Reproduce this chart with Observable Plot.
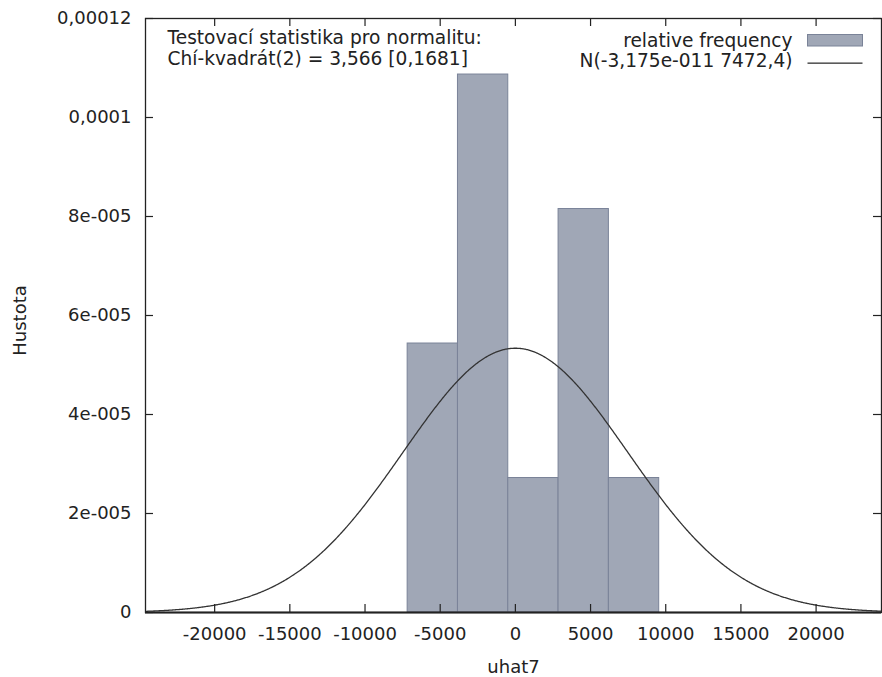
<!DOCTYPE html>
<html><head><meta charset="utf-8">
<script src="https://cdn.jsdelivr.net/npm/d3@7"></script>
<script src="https://cdn.jsdelivr.net/npm/@observablehq/plot@0.6"></script>
<style>body{margin:0;background:#fff} svg{display:block}</style>
</head><body><div id="chart"></div>
<script>
// ---- data ----
const binEdges = [-7165, -3819, -473, 2873, 6219, 9565];
const density = [5.434e-5, 1.0868e-4, 2.717e-5, 8.151e-5, 2.717e-5];
const normalMean = -3.175e-11;
const normalSd = 7472.4;
const xDomain = [-24600, 24350];
const yDomain = [0, 0.00012];
const xTicks = [-20000, -15000, -10000, -5000, 0, 5000, 10000, 15000, 20000];
const xTickLabels = ["-20000", "-15000", "-10000", "-5000", "0", "5000", "10000", "15000", "20000"];
const yTicks = [0, 2e-5, 4e-5, 6e-5, 8e-5, 1e-4, 1.2e-4];
const yTickLabels = ["0", "2e-005", "4e-005", "6e-005", "8e-005", "0,0001", "0,00012"];
const testLines = ["Testovací statistika pro normalitu:", "Chí-kvadrát(2) = 3,566 [0,1681]"];
const legendLabels = ["relative frequency", "N(-3,175e-011 7472,4)"];
const xLabel = "uhat7";
const yLabel = "Hustota";

// ---- derived tables ----
const bars = density.map((d, i) => ({x1: binEdges[i], x2: binEdges[i + 1], y: d}));
const curve = d3.range(xDomain[0], xDomain[1] + 1, 50).map(x => ({
  x, y: Math.exp(-0.5 * ((x - normalMean) / normalSd) ** 2) / (normalSd * Math.sqrt(2 * Math.PI))
}));

const W = 882, H = 677, mL = 145, mR = 1, mT = 18, mB = 65;
const fw = W - mL - mR, fh = H - mT - mB;
const tick = 8;
const ink = "#222";
const barFill = "#a0a7b6", barStroke = "#7a8398";
const annSize = 18.6;

const chart = Plot.plot({
  width: W, height: H,
  marginLeft: mL, marginRight: mR, marginTop: mT, marginBottom: mB,
  style: {fontFamily: "'DejaVu Sans', Verdana, sans-serif", fontSize: "18px", color: ink, background: "#fff"},
  x: {domain: xDomain, ticks: xTicks, tickFormat: d => xTickLabels[xTicks.indexOf(d)]},
  y: {domain: yDomain, ticks: yTicks, tickFormat: d => yTickLabels[yTicks.indexOf(d)]},
  marks: [
    Plot.rectY(bars, {x1: "x1", x2: "x2", y: "y", fill: barFill, stroke: barStroke, strokeWidth: 1}),
    Plot.line(curve, {x: "x", y: "y", stroke: "#333", strokeWidth: 1.3, clip: true}),
    // inward ticks on all four sides
    Plot.ruleX(xTicks, {stroke: ink, strokeWidth: 1.2, insetTop: fh - tick}),
    Plot.ruleX(xTicks, {stroke: ink, strokeWidth: 1.2, insetBottom: fh - tick}),
    Plot.ruleY(yTicks, {stroke: ink, strokeWidth: 1.2, insetRight: fw - tick}),
    Plot.ruleY(yTicks, {stroke: ink, strokeWidth: 1.2, insetLeft: fw - tick}),
    Plot.axisX({ticks: xTicks, tickSize: 0, tickPadding: 15, tickFormat: d => xTickLabels[xTicks.indexOf(d)], label: null, fill: ink}),
    Plot.axisY({ticks: yTicks, tickSize: 0, tickPadding: 14, tickFormat: d => yTickLabels[yTicks.indexOf(d)], label: null, fill: ink}),
    Plot.frame({stroke: ink, strokeWidth: 1.3}),
    Plot.ruleY([0], {stroke: ink, strokeWidth: 2}),
    // annotation text top-left
    Plot.text([testLines[0]], {frameAnchor: "top-left", dx: 22, dy: 25.5, lineAnchor: "bottom", textAnchor: "start", fill: ink, fontSize: annSize}),
    Plot.text([testLines[1]], {frameAnchor: "top-left", dx: 22, dy: 46.5, lineAnchor: "bottom", textAnchor: "start", fill: ink, fontSize: annSize}),
    // legend
    Plot.text([legendLabels[0]], {frameAnchor: "top-right", dx: -89, dy: 28.5, lineAnchor: "bottom", textAnchor: "end", fill: ink, fontSize: annSize}),
    Plot.text([legendLabels[1]], {frameAnchor: "top-right", dx: -89, dy: 48, lineAnchor: "bottom", textAnchor: "end", fill: ink, fontSize: annSize}),
    Plot.frame({fill: barFill, stroke: barStroke, strokeWidth: 1, insetLeft: 662, insetRight: 19, insetTop: 16, insetBottom: fh - 27.5}),
    Plot.frame({fill: "#333", stroke: "none", insetLeft: 662, insetRight: 19, insetTop: 44, insetBottom: fh - 45.3}),
    // axis titles
    Plot.text([xLabel], {frameAnchor: "bottom", dy: 60, lineAnchor: "bottom", fill: ink}),
    Plot.text([yLabel], {frameAnchor: "left", dx: -125, dy: 5, rotate: -90, textAnchor: "middle", lineAnchor: "middle", fill: ink})
  ]
});
document.getElementById("chart").appendChild(chart);
</script>
</body></html>
